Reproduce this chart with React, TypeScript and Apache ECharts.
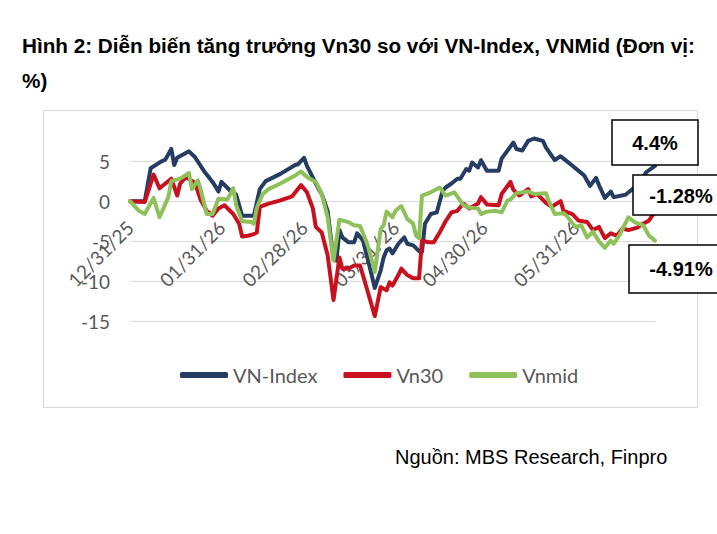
import React, { useEffect, useRef } from "react";
import * as echarts from "echarts";

// Day offsets counted from 12/31/2025; values are % change
const tickDays = [0, 31, 59, 90, 120, 151];
const tickLabels = ["12/31/25", "01/31/26", "02/28/26", "03/31/26", "04/30/26", "05/31/26"];
const yTicks = [-15, -10, -5, 0, 5];

const seriesNames = ["VN-Index", "Vn30", "Vnmid"];

const vnIndex: [number, number][] = [
  [0, 0], [5, 0], [7, 4.1], [10, 4.8], [12, 5.2], [14, 6.5], [15, 4.5], [16, 5.4],
  [20, 6.2], [22, 5.5], [25, 3.8], [28, 2.4], [30, 1.2], [31, 2.4], [34, 1.3], [36, 0.8],
  [38, -1.8], [42, -1.8], [44, 1.5], [46, 2.5], [51, 3.4], [56, 4.5], [57, 4.6], [59, 5.4],
  [60, 4.4], [63, 2.2], [64, 1.5], [65, 0.9], [67, -1.2], [69, -7.2], [70, -7.4], [71, -3.6],
  [72, -4.5], [74, -5.1], [76, -5.1], [77, -4.0], [79, -4.9], [81, -7.8], [83, -10.8], [85, -8.6],
  [86, -7.0], [87, -6.1], [88, -5.9], [89, -6.5], [91, -5.3], [93, -4.5], [94, -5.3], [96, -5.5],
  [98, -6.2], [99, -6.3], [100, -2.8], [102, -1.6], [104, -1.4], [106, 1.3], [107, 1.7], [109, 2.2],
  [111, 2.8], [112, 2.8], [114, 4.0], [115, 3.8], [116, 4.8], [118, 4.2], [119, 5.1], [121, 3.8],
  [125, 3.8], [126, 5.3], [130, 7.3], [131, 6.5], [133, 6.3], [135, 7.5], [137, 7.8], [140, 7.5],
  [141, 6.7], [144, 5.1], [146, 5.6], [147, 5.3], [150, 4.4], [152, 3.8], [154, 3.2], [156, 1.9],
  [158, 2.9], [159, 2.0], [161, 0.4], [163, 1.2], [164, 0.5], [168, 0.8], [170, 1.4], [173, 2.2],
  [175, 3.6], [178, 4.4],
];

const vn30: [number, number][] = [
  [0, 0], [5, -0.1], [8, 3.3], [10, 1.6], [14, 2.8], [16, 0.7], [17, 2.2], [19, 3.0],
  [22, 2.3], [24, 0.1], [26, -1.2], [28, -1.8], [30, -0.9], [32, -0.5], [35, -1.6], [37, -2.8],
  [38, -4.4], [40, -4.3], [42, -4.1], [43, -3.9], [44, -0.7], [47, -0.3], [51, 0.1], [55, 0.6],
  [58, 2.0], [60, 1.1], [62, -0.9], [63, -3.2], [65, -3.9], [67, -6.7], [69, -12.3], [71, -7.0],
  [72, -8.4], [74, -8.4], [76, -8.0], [78, -8.0], [80, -10.5], [83, -14.3], [85, -10.7], [87, -11.1],
  [88, -10.1], [89, -10.5], [91, -9.2], [92, -8.4], [94, -9.2], [96, -9.6], [98, -9.6], [99, -4.9],
  [101, -5.1], [103, -5.1], [105, -3.9], [107, -2.5], [109, -1.4], [111, -1.2], [113, -0.3], [115, -0.9],
  [118, -0.3], [119, 0.5], [121, -0.4], [125, -0.5], [126, 0.9], [129, 2.4], [130, 1.4], [132, 0.7],
  [135, 1.5], [136, 0.6], [138, 0.9], [141, -0.2], [143, -0.7], [146, 0.0], [147, -1.2], [150, -1.6],
  [152, -2.4], [155, -2.6], [157, -3.6], [159, -3.2], [161, -4.6], [163, -4.0], [165, -4.3], [167, -3.4],
  [169, -3.6], [172, -3.3], [174, -2.8], [176, -2.4], [178, -1.28],
];

const vnmid: [number, number][] = [
  [0, 0], [3, -1.2], [5, -1.6], [8, 0.4], [10, -2.0], [13, 0.5], [14, 2.5], [17, 2.8],
  [20, 3.5], [21, 1.5], [23, 2.6], [24, 1.4], [26, -1.6], [28, -1.6], [30, 0.3], [33, 0.2],
  [35, 1.6], [36, -0.5], [38, -2.5], [41, -2.6], [42, -2.8], [43, -0.8], [45, 0.9], [47, 1.5],
  [51, 2.2], [56, 3.2], [58, 3.7], [60, 3.0], [63, 2.4], [65, 0.9], [67, -2.0], [69, -7.4],
  [71, -2.3], [74, -2.6], [76, -3.0], [78, -3.1], [80, -4.9], [81, -6.0], [83, -8.8], [85, -3.5],
  [86, -3.0], [87, -1.3], [89, -2.0], [90, -1.2], [92, -0.6], [94, -2.2], [96, -2.8], [97, -4.3],
  [98, -4.6], [99, 0.7], [102, 1.1], [105, 1.7], [107, 0.7], [110, 1.1], [113, -0.5], [115, -0.8],
  [118, -0.9], [119, -1.6], [121, -1.3], [124, -1.2], [126, -1.4], [128, 0.1], [129, 0.2], [131, 1.0],
  [135, 1.2], [137, 0.9], [141, 1.0], [142, 0.0], [144, -1.6], [147, -1.5], [148, -1.8], [151, -3.2],
  [153, -3.0], [155, -4.5], [157, -3.8], [159, -5.0], [161, -5.8], [163, -4.9], [164, -5.3], [166, -4.2],
  [169, -2.0], [171, -2.6], [174, -3.0], [176, -4.3], [178, -4.91],
];

const seriesData = [vnIndex, vn30, vnmid];
const colors = ["#253d63", "#c8101e", "#8fc15a"];

const lastValue = (d: [number, number][]) => d[d.length - 1][1];
const pct = (v: number) => `${v}%`;

// Plot area geometry
const GRID_TOP = 161;
const GRID_HEIGHT = 160.7;

export default function App() {
  const ref = useRef<HTMLDivElement>(null);

  useEffect(() => {
    if (!ref.current) return;
    const chart = echarts.init(ref.current, null, { renderer: "svg" });

    const yMin = yTicks[0];
    const yMax = yTicks[yTicks.length - 1];
    // shift the date labels up so they hang from the zero line
    const zeroOffset = -GRID_HEIGHT * (0 - yMin) / (yMax - yMin);

    const boxes = [
      { x: 612, y: 120, w: 86, h: 45, cx: 655, cy: 143, idx: 0 },
      { x: 633, y: 175, w: 110, h: 40, cx: 681, cy: 196, idx: 1 },
      { x: 629, y: 245, w: 110, h: 48, cx: 681, cy: 269, idx: 2 },
    ];

    chart.setOption({
      animation: false,
      backgroundColor: "#ffffff",
      grid: { left: 130, top: GRID_TOP, width: 525, height: GRID_HEIGHT, containLabel: false },
      xAxis: {
        type: "value",
        min: 0,
        max: 178,
        offset: zeroOffset,
        axisLine: { show: false, onZero: false },
        axisTick: { show: false },
        splitLine: { show: false },
        axisLabel: {
          customValues: tickDays,
          rotate: 45,
          margin: 23,
          color: "#595959",
          fontFamily: "Lato",
          fontSize: 19,
          formatter: (v: number) => tickLabels[tickDays.indexOf(v)] ?? "",
        },
      },
      yAxis: {
        type: "value",
        min: yMin,
        max: yMax,
        interval: 5,
        axisLine: { show: false },
        axisTick: { show: false },
        splitLine: { lineStyle: { color: "#d9d9d9", width: 1 } },
        axisLabel: { color: "#595959", fontFamily: "Lato", fontSize: 19, margin: 20 },
      },
      legend: {
        data: seriesNames,
        left: 175,
        top: 360,
        icon: "roundRect",
        itemWidth: 48,
        itemHeight: 6,
        itemGap: 26,
        textStyle: { color: "#595959", fontFamily: "Lato", fontSize: 20 },
      },
      series: seriesNames.map((name, i) => ({
        name,
        type: "line",
        data: seriesData[i],
        showSymbol: false,
        clip: false,
        color: colors[i],
        lineStyle: { width: 4, color: colors[i], cap: "round", join: "round" },
      })),
      graphic: [
        {
          type: "rect",
          z: -10,
          shape: { x: 43.5, y: 110.5, width: 654, height: 297 },
          style: { fill: "none", stroke: "#d9d9d9", lineWidth: 1 },
        },
        {
          type: "text",
          x: 22,
          y: 45,
          style: {
            text: "Hình 2: Diễn biến tăng trưởng Vn30 so với VN-Index, VNMid (Đơn vị:",
            font: "bold 20.7px 'Liberation Sans', Arial, sans-serif",
            fill: "#000",
            textVerticalAlign: "middle",
          },
        },
        {
          type: "text",
          x: 22,
          y: 80,
          style: {
            text: "%)",
            font: "bold 20.7px 'Liberation Sans', Arial, sans-serif",
            fill: "#000",
            textVerticalAlign: "middle",
          },
        },
        {
          type: "text",
          x: 395,
          y: 457,
          style: {
            text: "Nguồn: MBS Research, Finpro",
            font: "20px 'Liberation Sans', Arial, sans-serif",
            fill: "#000",
            textVerticalAlign: "middle",
          },
        },
        ...boxes.flatMap((b) => [
          {
            type: "rect",
            z: 100,
            shape: { x: b.x, y: b.y, width: b.w, height: b.h },
            style: { fill: "#ffffff", stroke: "#000000", lineWidth: 1.5 },
          },
          {
            type: "text",
            z: 101,
            x: b.cx,
            y: b.cy,
            style: {
              text: pct(lastValue(seriesData[b.idx])),
              font: "bold 20px 'Liberation Sans', Arial, sans-serif",
              fill: "#000",
              textAlign: "center",
              textVerticalAlign: "middle",
            },
          },
        ]),
      ],
    });

    return () => chart.dispose();
  }, []);

  return (
    <div
      ref={ref}
      style={{ position: "fixed", left: 0, top: 0, width: 717, height: 534, background: "#fff" }}
    />
  );
}
